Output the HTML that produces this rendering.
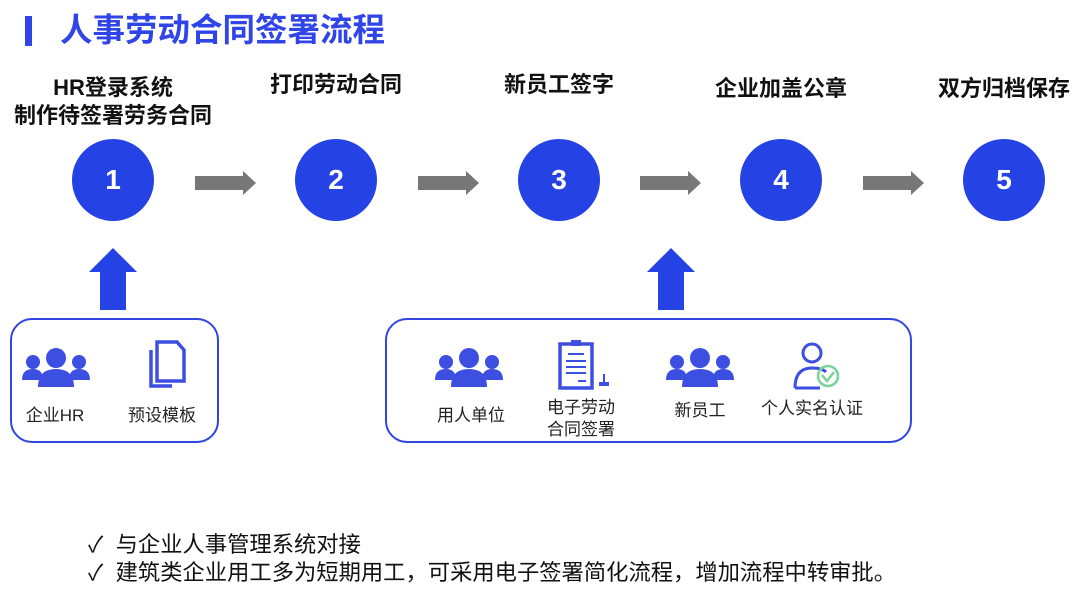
<!DOCTYPE html>
<html><head><meta charset="utf-8"><style>
body{margin:0;width:1080px;height:596px;background:#fff;position:relative;overflow:hidden;font-family:"Liberation Sans","Noto Sans CJK SC",sans-serif;}
.a{position:absolute}
.c{position:absolute;width:82px;height:82px;border-radius:50%;background:#2543e4;color:#fff;font-weight:bold;font-size:28px;text-align:center;line-height:82px;top:139px}
.l{position:absolute;font-weight:bold;font-size:22px;color:#111;text-align:center;width:260px;line-height:28px}
.t{position:absolute;font-size:17px;color:#222;text-align:center;width:120px;line-height:22px}
.box{position:absolute;border:2.5px solid #2f46e0;border-radius:22px;top:318px;height:121px}
</style></head><body>
<div class="a" style="left:25px;top:16px;width:7px;height:30px;background:#2f45e8"></div>
<div class="a" style="left:60px;top:7px;font-size:32.5px;font-weight:bold;color:#2f45e8;line-height:46px">人事劳动合同签署流程</div>

<div class="l" style="left:-17px;top:74px">HR登录系统<br>制作待签署劳务合同</div>
<div class="l" style="left:206px;top:71px">打印劳动合同</div>
<div class="l" style="left:429px;top:71px">新员工签字</div>
<div class="l" style="left:651px;top:75px">企业加盖公章</div>
<div class="l" style="left:874px;top:75px">双方归档保存</div>

<div class="c" style="left:72px">1</div>
<div class="c" style="left:295px">2</div>
<div class="c" style="left:518px">3</div>
<div class="c" style="left:740px">4</div>
<div class="c" style="left:963px">5</div>

<svg class="a" style="left:0;top:0" width="1080" height="596">
<g fill="#777">
<polygon points="195,176 243,176 243,171 256,183 243,195 243,190 195,190"/>
<polygon points="418,176 466,176 466,171 479,183 466,195 466,190 418,190"/>
<polygon points="640,176 688,176 688,171 701,183 688,195 688,190 640,190"/>
<polygon points="863,176 911,176 911,171 924,183 911,195 911,190 863,190"/>
</g>
<g fill="#2543e4">
<polygon points="113,248 137,272 126,272 126,310 100,310 100,272 89,272"/>
<polygon points="671,248 695,272 684,272 684,310 658,310 658,272 647,272"/>
</g>
<defs>
<g id="ppl" fill="#3d4fe0">
<circle cx="0" cy="-12" r="10"/><path d="M-18 17 Q-18 -1 0 -1 Q18 -1 18 17 Z"/>
<circle cx="-23" cy="-8" r="7"/><path d="M-34 10 Q-34 -1 -23 -1 Q-13 -1 -13 10 Z"/>
<circle cx="23" cy="-8" r="7"/><path d="M13 10 Q13 -1 23 -1 Q34 -1 34 10 Z"/>
</g>
</defs>
<use href="#ppl" x="56" y="370"/>
<use href="#ppl" x="469" y="370"/>
<use href="#ppl" x="700" y="370"/>
<g fill="none" stroke="#3d4fe0" stroke-width="3.5">
<path d="M151 350 L151 386 L172 386"/>
<path d="M157 342 L177 342 L184 350 L184 381 L157 381 Z"/>
<rect x="560" y="344" width="32" height="44"/>
<path d="M568 354h16M566 361h20M566 367h20M566 373h20M578 381h8" stroke-width="2"/>
</g>
<rect x="571" y="340" width="10" height="6" fill="#3d4fe0"/>
<path d="M603 374v8h-4v4h10v-4h-4v-8z" fill="#3d4fe0"/>
<g fill="none" stroke="#3d4fe0" stroke-width="3">
<circle cx="812" cy="353" r="9"/>
<path d="M795 388 Q795 368 812 368 Q822 368 826 372 M795 388 L820 388"/>
</g>
<circle cx="828" cy="376" r="10" fill="none" stroke="#7bd39a" stroke-width="2.5"/>
<path d="M822 375l5 6 7-9" fill="none" stroke="#7bd39a" stroke-width="2.5"/>
</svg>

<div class="box" style="left:10px;width:205px"></div>
<div class="box" style="left:385px;width:523px"></div>
<div class="t" style="left:-5px;top:405px">企业HR</div>
<div class="t" style="left:102px;top:405px">预设模板</div>
<div class="t" style="left:411px;top:405px">用人单位</div>
<div class="t" style="left:521px;top:397px">电子劳动<br>合同签署</div>
<div class="t" style="left:640px;top:400px">新员工</div>
<div class="t" style="left:752px;top:398px;width:120px">个人实名认证</div>

<div class="a" style="left:88px;top:531px;font-size:22.3px;line-height:28px;color:#111">✓&nbsp; 与企业人事管理系统对接<br>✓&nbsp; 建筑类企业用工多为短期用工，可采用电子签署简化流程，增加流程中转审批。</div>
</body></html>
